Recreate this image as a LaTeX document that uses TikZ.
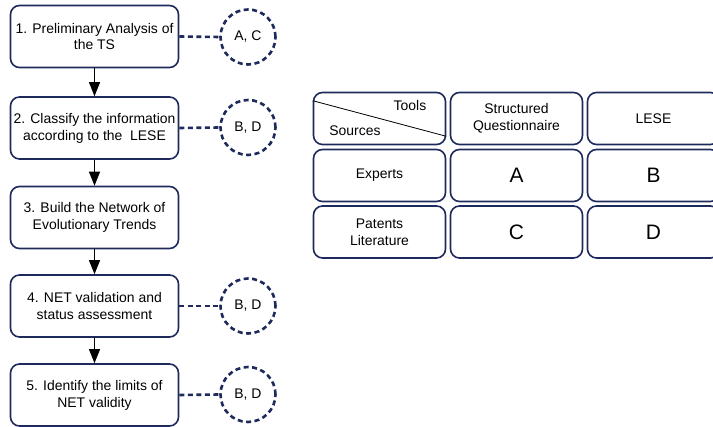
\documentclass[tikz,border=0pt]{standalone}
\usepackage{fontspec}
\setmainfont{Liberation Sans}
\usetikzlibrary{arrows.meta}
\definecolor{netnavy}{RGB}{31,42,92}
\tikzset{
  stepbox/.style={draw=netnavy, line width=1.6bp, rounded corners=9bp,
    minimum width=168bp, minimum height=62bp, inner sep=2bp, align=center,
    font=\fontsize{14}{17}\selectfont},
  srctag/.style={circle, draw=netnavy, line width=2.6bp,
    dash pattern=on 5bp off 3.5bp, minimum size=55bp, inner sep=0bp,
    font=\fontsize{14}{17}\selectfont},
  tablecell/.style={draw=netnavy, line width=1.6bp, rounded corners=9bp,
    minimum width=132bp, minimum height=52bp, inner sep=2bp, align=center,
    font=\fontsize{14}{17}\selectfont},
  bigletter/.style={font=\fontsize{21}{24}\selectfont},
  link/.style={netnavy, line width=2.6bp, dash pattern=on 5bp off 3.5bp},
  flow/.style={-{Triangle[length=14bp,width=11bp]}, line width=1bp},
}
\begin{document}
\begin{tikzpicture}[line join=bevel]
  \useasboundingbox (0bp,0bp) rectangle (713bp,427bp);
%%
  % Node: steps of the procedure
  \node[stepbox] (s1) at (94.5bp,390.5bp) {1. Preliminary Analysis of\\the TS};
  \node[stepbox] (s2) at (94.5bp,299bp) {2. Classify the information\\according to the\ \ LESE};
  \node[stepbox] (s3) at (94.5bp,209.5bp) {3. Build the Network of\\Evolutionary Trends};
  \node[stepbox] (s4) at (94.5bp,121bp) {4. NET validation and\\status assessment};
  \node[stepbox] (s5) at (94.5bp,32bp) {5. Identify the limits of\\NET validity};
  % Node: sources used in each step
  \node[srctag] (t1) at (248bp,390bp) {A, C};
  \node[srctag] (t2) at (248bp,299.5bp) {B, D};
  \node[srctag] (t4) at (248bp,121bp) {B, D};
  \node[srctag] (t5) at (248bp,32.5bp) {B, D};
  % Edge: steps -> next step
  \draw[flow] (s1) -- (s2);
  \draw[flow] (s2) -- (s3);
  \draw[flow] (s3) -- (s4);
  \draw[flow] (s4) -- (s5);
  % Edge: step -> sources
  \draw[link] (s1.east) -- (t1.west);
  \draw[link] (s2.east) -- (t2.west);
  \draw[link] (s4.east) -- (t4.west);
  \draw[link] (s5.east) -- (t5.west);
%%
  % Node: table of sources and tools
  \node[tablecell] (head) at (379.5bp,308.5bp) {};
  \node[tablecell] (quest) at (516.5bp,308.5bp) {Structured\\Questionnaire};
  \node[tablecell] (lese) at (653.5bp,308.5bp) {LESE};
  \node[tablecell] (experts) at (379.5bp,251.5bp) {Experts};
  \node[tablecell, bigletter] (cellA) at (516.5bp,251.5bp) {A};
  \node[tablecell, bigletter] (cellB) at (653.5bp,251.5bp) {B};
  \node[tablecell] (patents) at (379.5bp,195bp) {Patents\\Literature};
  \node[tablecell, bigletter] (cellC) at (516.5bp,195bp) {C};
  \node[tablecell, bigletter] (cellD) at (653.5bp,195bp) {D};
  % header split
  \draw[line width=0.8bp] ([yshift=-9bp]head.north west) -- ([yshift=9bp]head.south east);
  \node[font=\fontsize{14}{17}\selectfont] (tools) at (410bp,321bp) {Tools};
  \node[font=\fontsize{14}{17}\selectfont] (sources) at (355bp,296bp) {Sources};
%
\end{tikzpicture}
\end{document}
